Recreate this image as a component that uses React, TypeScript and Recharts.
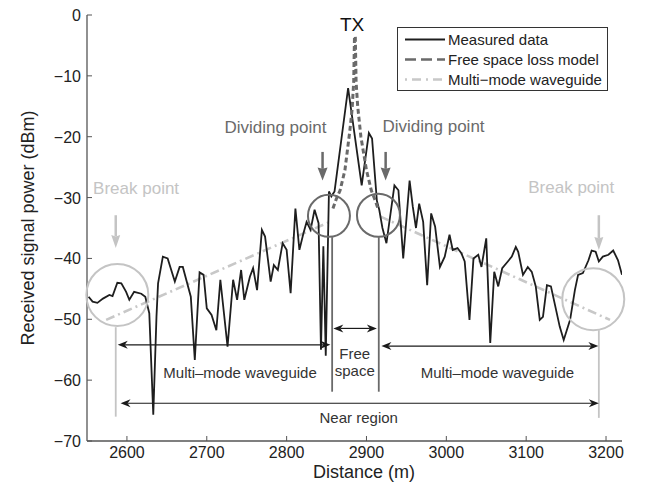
import React from "react";
import { ComposedChart, Line, XAxis, YAxis, Legend, ReferenceLine, ReferenceDot } from "recharts";

const FONT = '"Liberation Sans", Arial, Helvetica, sans-serif';

const xTicks = [2600, 2700, 2800, 2900, 3000, 3100, 3200];
const yTicks = [-70, -60, -50, -40, -30, -20, -10, 0];

const measuredDistance = [
  2552, 2557, 2563, 2570, 2578, 2582, 2588, 2593, 2599, 2603, 2609, 2618, 2623, 2628, 2633, 2637, 2639,
  2645, 2651, 2660, 2666, 2670, 2680, 2685, 2691, 2696, 2700, 2706, 2712, 2717, 2726, 2733, 2738, 2743,
  2747, 2754, 2758, 2763, 2769, 2773, 2780, 2784, 2789, 2795, 2800, 2805, 2811, 2816, 2821, 2825, 2830,
  2835, 2840, 2843, 2846, 2849, 2853, 2856, 2860, 2867, 2877, 2894, 2903, 2907, 2913, 2916, 2920, 2925,
  2935, 2940, 2946, 2954, 2958, 2962, 2966, 2971, 2976, 2981, 2986, 2992, 2998, 3004, 3008, 3014, 3019,
  3023, 3029, 3034, 3040, 3044, 3050, 3055, 3060, 3065, 3070, 3077, 3082, 3087, 3090, 3096, 3102, 3107,
  3112, 3117, 3121, 3126, 3131, 3136, 3142, 3147, 3155, 3161, 3165, 3171, 3178, 3182, 3187, 3191, 3196,
  3203, 3209, 3215, 3220,
];
const measuredPower = [
  -46.3, -47.1, -47.3, -46.6, -46.0, -46.2, -44.0, -44.1, -45.5, -46.8, -45.5, -45.8, -46.3, -49.0, -65.7, -49.6, -44.1,
  -39.7, -40.0, -43.8, -41.4, -41.4, -46.3, -56.7, -42.3, -42.7, -48.2, -49.3, -51.8, -43.5, -54.5, -43.5, -46.8, -41.9,
  -46.8, -43.0, -41.6, -45.2, -35.3, -36.4, -43.8, -41.1, -41.9, -37.5, -38.6, -45.7, -31.8, -38.6, -35.9, -34.0, -35.3,
  -32.0, -34.2, -55.0, -38.0, -56.0, -29.0, -29.8, -29.0, -22.0, -12.0, -28.0, -19.4, -20.3, -30.5, -32.0, -35.0, -37.5,
  -28.0, -28.8, -40.0, -27.2, -31.5, -35.0, -31.0, -34.0, -44.4, -32.6, -34.8, -41.4, -39.7, -36.1, -38.6, -38.3, -39.2,
  -40.5, -50.1, -40.0, -39.4, -41.4, -36.7, -53.9, -42.2, -44.6, -41.6, -40.5, -39.7, -38.1, -38.9, -42.7, -41.4, -42.2,
  -44.6, -50.1, -49.6, -44.4, -44.6, -47.6, -51.2, -53.4, -50.1, -45.2, -42.7, -42.4, -40.3, -38.7, -38.9, -40.5, -39.7,
  -39.4, -38.7, -40.3, -42.7,
];

const freeSpaceDistance = [2858, 2862, 2867, 2873, 2879, 2882, 2884, 2885, 2886, 2887, 2889, 2893, 2900, 2906, 2911, 2915];
const freeSpacePower = [-31.8, -30.3, -28.8, -25.5, -19.2, -15.5, -11, -3.5, -3.5, -11, -15, -20, -25.5, -28.8, -30.5, -32];

// two fitted segments, gap between them
const waveguideDistance = [2574, 2854, 2885, 2917, 3205];
const waveguidePower = [-50.1, -34.0, null, -33.1, -50.1];

const zip = (xs: number[], ys: (number | null)[]) => xs.map((x, i) => ({ x, y: ys[i] }));
const measuredData = zip(measuredDistance, measuredPower);
const freeSpaceData = zip(freeSpaceDistance, freeSpacePower);
const waveguideData = zip(waveguideDistance, waveguidePower);

const AXIS = "#555";
const DARK = "#6a6a6a";
const LIGHT = "#c4c4c4";

const fmtY = (v: number) => (v < 0 ? "\u2212" + Math.abs(v) : String(v));

function BottomTick(props: any) {
  const { x, y, payload } = props;
  return (
    <g>
      <line x1={x} y1={y} x2={x} y2={y - 5} stroke={AXIS} strokeWidth={1} />
      <text x={x} y={y + 17} textAnchor="middle" fontSize={16} fill="#222" fontFamily={FONT}>
        {payload.value}
      </text>
    </g>
  );
}
function TopTick(props: any) {
  const { x, y } = props;
  return <line x1={x} y1={y} x2={x} y2={y + 5} stroke={AXIS} strokeWidth={1} />;
}
function LeftTick(props: any) {
  const { x, y, payload } = props;
  return (
    <g>
      <line x1={x} y1={y} x2={x + 5} y2={y} stroke={AXIS} strokeWidth={1} />
      <text x={x - 6} y={y + 6} textAnchor="end" fontSize={16} fill="#222" fontFamily={FONT}>
        {fmtY(payload.value)}
      </text>
    </g>
  );
}
function RightTick(props: any) {
  const { x, y } = props;
  return <line x1={x} y1={y} x2={x - 5} y2={y} stroke={AXIS} strokeWidth={1} />;
}

function arrow(color: string, width: number, headLen: number, headW: number, both: boolean, notch = 0.7) {
  return (p: any) => {
    const { x1, y1, x2, y2 } = p;
    const len = Math.hypot(x2 - x1, y2 - y1) || 1;
    const ux = (x2 - x1) / len;
    const uy = (y2 - y1) / len;
    const head = (tx: number, ty: number, dx: number, dy: number) => {
      const bx = tx - dx * headLen;
      const by = ty - dy * headLen;
      const nx = tx - dx * headLen * notch;
      const ny = ty - dy * headLen * notch;
      const pts = [
        [tx, ty],
        [bx - dy * headW / 2, by + dx * headW / 2],
        [nx, ny],
        [bx + dy * headW / 2, by - dx * headW / 2],
      ];
      return <polygon points={pts.map((q) => q.join(",")).join(" ")} fill={color} stroke="none" />;
    };
    const sx = both ? x1 + ux * headLen * notch : x1;
    const sy = both ? y1 + uy * headLen * notch : y1;
    return (
      <g>
        <line x1={sx} y1={sy} x2={x2 - ux * headLen * notch} y2={y2 - uy * headLen * notch} stroke={color} strokeWidth={width} />
        {head(x2, y2, ux, uy)}
        {both && head(x1, y1, -ux, -uy)}
      </g>
    );
  };
}

function label(text: string, size: number, color: string) {
  return (p: any) => (
    <text x={p.cx} y={p.cy} textAnchor="middle" fontSize={size} fill={color} fontFamily={FONT}>
      {text}
    </text>
  );
}

function LegendBox() {
  const rows = [
    { name: "Measured data", stroke: "#1e1e1e", width: 2, dash: undefined as string | undefined },
    { name: "Free space loss model", stroke: DARK, width: 2.5, dash: "11 5" },
    { name: "Multi\u2212mode waveguide", stroke: "#c8c8c8", width: 2.5, dash: "2 5 9 5" },
  ];
  return (
    <svg width={211} height={64} style={{ display: "block" }}>
      <rect x={0.5} y={0.5} width={210} height={63} fill="#fff" stroke="#333" strokeWidth={1} />
      {rows.map((r, i) => (
        <g key={r.name}>
          <line x1={8} x2={48} y1={12.5 + i * 20} y2={12.5 + i * 20} stroke={r.stroke} strokeWidth={r.width} strokeDasharray={r.dash} />
          <text x={51} y={12.5 + i * 20 + 5} fontSize={15} fill="#222" fontFamily={FONT}>
            {r.name}
          </text>
        </g>
      ))}
    </svg>
  );
}

export default function App() {
  return (
    <div style={{ width: 657, height: 487, position: "relative", background: "#fff" }}>
      <style>{"body{margin:0}"}</style>
      <ComposedChart width={657} height={487} margin={{ top: 15, right: 35, bottom: 0, left: 0 }}>
        <XAxis
          xAxisId="b"
          dataKey="x"
          type="number"
          domain={[2550, 3220]}
          ticks={xTicks}
          allowDataOverflow
          height={46}
          tickSize={0}
          tickMargin={0}
          tickLine={false}
          tick={<BottomTick />}
          axisLine={{ stroke: AXIS, strokeWidth: 1.3 }}
          label={{
            content: () => (
              <text x={364} y={478} textAnchor="middle" fontSize={18} fill="#222" fontFamily={FONT}>
                Distance (m)
              </text>
            ),
          }}
        />
        <XAxis
          xAxisId="t"
          orientation="top"
          dataKey="x"
          type="number"
          domain={[2550, 3220]}
          ticks={xTicks}
          allowDataOverflow
          height={0}
          tickSize={0}
          tickMargin={0}
          tickLine={false}
          tick={<TopTick />}
          axisLine={{ stroke: AXIS, strokeWidth: 1.3 }}
        />
        <YAxis
          yAxisId="l"
          type="number"
          domain={[-70, 0]}
          ticks={yTicks}
          allowDataOverflow
          width={87}
          tickSize={0}
          tickMargin={0}
          tickLine={false}
          tick={<LeftTick />}
          axisLine={{ stroke: AXIS, strokeWidth: 1.3 }}
          label={{
            content: () => (
              <text
                x={28}
                y={228}
                transform="rotate(-90, 28, 228)"
                textAnchor="middle"
                dominantBaseline="central"
                fontSize={18}
                fill="#222"
                fontFamily={FONT}
              >
                Received signal power (dBm)
              </text>
            ),
          }}
        />
        <YAxis
          yAxisId="r"
          orientation="right"
          type="number"
          domain={[-70, 0]}
          ticks={yTicks}
          allowDataOverflow
          width={0}
          tickSize={0}
          tickMargin={0}
          tickLine={false}
          tick={<RightTick />}
          axisLine={{ stroke: AXIS, strokeWidth: 1.3 }}
        />

        <Line
          xAxisId="b"
          yAxisId="l"
          data={waveguideData}
          dataKey="y"
          type="linear"
          stroke="#c8c8c8"
          strokeWidth={2.6}
          strokeDasharray="9 4 2 4"
          dot={false}
          isAnimationActive={false}
        />
        <Line
          xAxisId="b"
          yAxisId="l"
          data={measuredData}
          dataKey="y"
          type="linear"
          stroke="#1e1e1e"
          strokeWidth={1.8}
          dot={false}
          isAnimationActive={false}
        />
        <Line
          xAxisId="b"
          yAxisId="l"
          data={freeSpaceData}
          dataKey="y"
          type="linear"
          stroke={DARK}
          strokeWidth={3}
          strokeDasharray="5 3"
          dot={false}
          isAnimationActive={false}
        />

        {/* circles */}
        <ReferenceDot xAxisId="b" yAxisId="l" x={2588} y={-46.0} r={31} fill="none" stroke={LIGHT} strokeWidth={2} />
        <ReferenceDot xAxisId="b" yAxisId="l" x={3184} y={-46.7} r={31} fill="none" stroke={LIGHT} strokeWidth={2} />
        <ReferenceDot xAxisId="b" yAxisId="l" x={2853} y={-33.0} r={21} fill="none" stroke={DARK} strokeWidth={2} />
        <ReferenceDot xAxisId="b" yAxisId="l" x={2915} y={-32.9} r={21.5} fill="none" stroke={DARK} strokeWidth={2} />

        {/* vertical markers */}
        <ReferenceLine xAxisId="b" yAxisId="l" segment={[{ x: 2857, y: -36.5 }, { x: 2857, y: -61.9 }]} stroke={DARK} strokeWidth={1.8} />
        <ReferenceLine xAxisId="b" yAxisId="l" segment={[{ x: 2915.4, y: -36.5 }, { x: 2915.4, y: -61.9 }]} stroke={DARK} strokeWidth={1.8} />
        <ReferenceLine xAxisId="b" yAxisId="l" segment={[{ x: 2586, y: -51.3 }, { x: 2586, y: -66 }]} stroke={LIGHT} strokeWidth={1.8} />
        <ReferenceLine xAxisId="b" yAxisId="l" segment={[{ x: 3191, y: -51.8 }, { x: 3191, y: -66.2 }]} stroke={LIGHT} strokeWidth={1.8} />

        {/* arrows */}
        <ReferenceLine xAxisId="b" yAxisId="l" segment={[{ x: 2845, y: -22.5 }, { x: 2845, y: -27.2 }]} shape={arrow(DARK, 2.5, 13, 10, false, 0.9)} />
        <ReferenceLine xAxisId="b" yAxisId="l" segment={[{ x: 2924, y: -22.5 }, { x: 2924, y: -27.2 }]} shape={arrow(DARK, 2.5, 13, 10, false, 0.9)} />
        <ReferenceLine xAxisId="b" yAxisId="l" segment={[{ x: 2586, y: -32.9 }, { x: 2586, y: -38.3 }]} shape={arrow(LIGHT, 2.5, 13, 9, false, 0.9)} />
        <ReferenceLine xAxisId="b" yAxisId="l" segment={[{ x: 3191, y: -32.9 }, { x: 3191, y: -38.6 }]} shape={arrow(LIGHT, 2.5, 13, 9, false, 0.9)} />
        <ReferenceLine xAxisId="b" yAxisId="l" segment={[{ x: 2588.5, y: -54.2 }, { x: 2854.8, y: -54.2 }]} shape={arrow("#1a1a1a", 1.2, 10, 8, true)} />
        <ReferenceLine xAxisId="b" yAxisId="l" segment={[{ x: 2858.5, y: -51.5 }, { x: 2913, y: -51.5 }]} shape={arrow("#1a1a1a", 1.2, 10, 8, true)} />
        <ReferenceLine xAxisId="b" yAxisId="l" segment={[{ x: 2918.7, y: -54.4 }, { x: 3190.4, y: -54.4 }]} shape={arrow("#1a1a1a", 1.2, 10, 8, true)} />
        <ReferenceLine xAxisId="b" yAxisId="l" segment={[{ x: 2592, y: -63.8 }, { x: 3191, y: -63.8 }]} shape={arrow("#1a1a1a", 1.2, 10, 8, true)} />

        {/* texts */}
        <ReferenceDot xAxisId="b" yAxisId="l" x={2882} y={-2.6} shape={label("TX", 19, "#111")} />
        <ReferenceDot xAxisId="b" yAxisId="l" x={2786} y={-19.4} shape={label("Dividing point", 17, DARK)} />
        <ReferenceDot xAxisId="b" yAxisId="l" x={2984} y={-19.2} shape={label("Dividing point", 17, DARK)} />
        <ReferenceDot xAxisId="b" yAxisId="l" x={2611.5} y={-29.4} shape={label("Break point", 17, LIGHT)} />
        <ReferenceDot xAxisId="b" yAxisId="l" x={3156.5} y={-29.3} shape={label("Break point", 17, LIGHT)} />
        <ReferenceDot xAxisId="b" yAxisId="l" x={2741.7} y={-59.6} shape={label("Multi\u2013mode waveguide", 15, "#333")} />
        <ReferenceDot xAxisId="b" yAxisId="l" x={3064} y={-59.7} shape={label("Multi\u2013mode waveguide", 15, "#333")} />
        <ReferenceDot xAxisId="b" yAxisId="l" x={2885.3} y={-56.6} shape={label("Free", 15, "#333")} />
        <ReferenceDot xAxisId="b" yAxisId="l" x={2885.3} y={-59.4} shape={label("space", 15, "#333")} />
        <ReferenceDot xAxisId="b" yAxisId="l" x={2890.3} y={-67.1} shape={label("Near region", 15, "#333")} />

        <Legend
          layout="vertical"
          align="center"
          verticalAlign="middle"
          wrapperStyle={{ top: 27, left: 397, width: 211, height: 64 }}
          content={() => <LegendBox />}
        />
      </ComposedChart>
    </div>
  );
}
